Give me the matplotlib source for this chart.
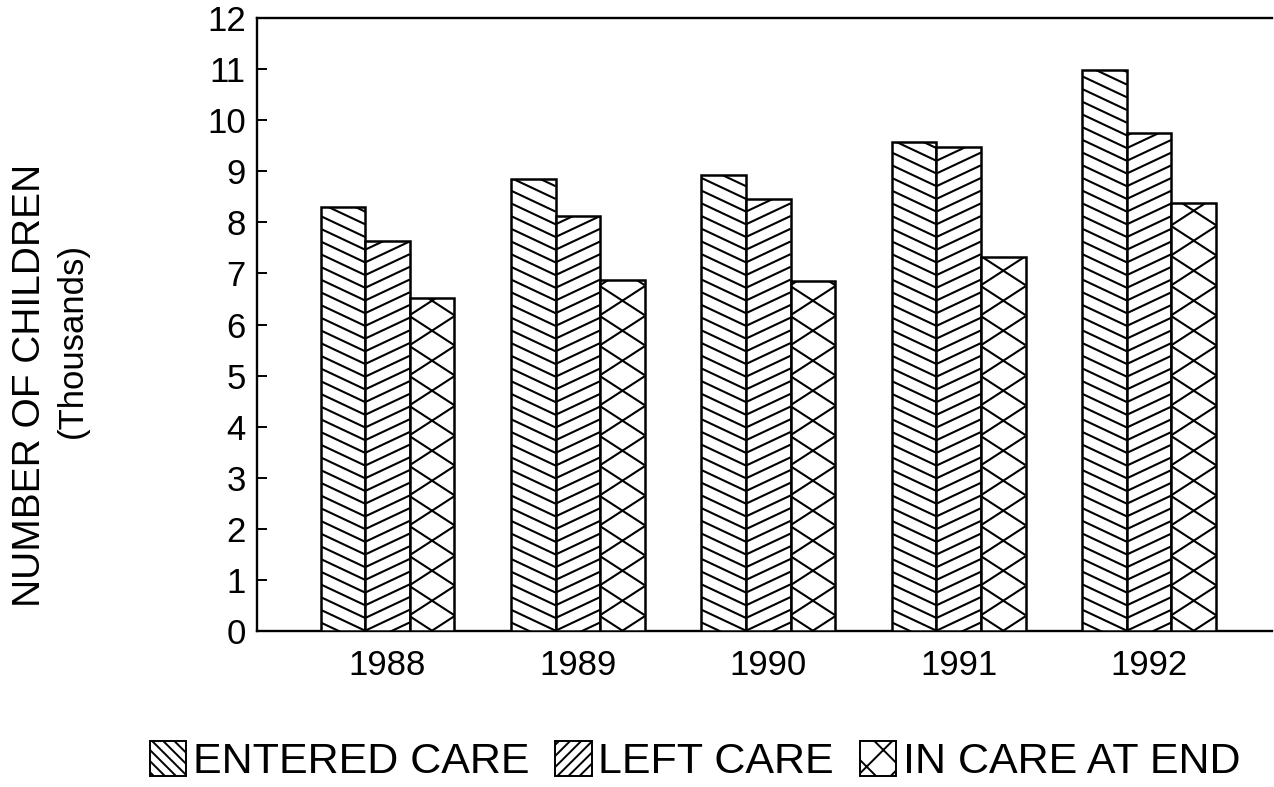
import numpy as np
import matplotlib
matplotlib.use("Agg")
import matplotlib.pyplot as plt
from matplotlib.collections import LineCollection
from matplotlib.patches import Rectangle

# data (thousands of children)
years = ["1988", "1989", "1990", "1991", "1992"]
entered = [8.30, 8.85, 8.93, 9.57, 10.99]
left_care = [7.64, 8.13, 8.45, 9.47, 9.75]
in_care = [6.51, 6.87, 6.86, 7.32, 8.38]
series_names = ["ENTERED CARE", "LEFT CARE", "IN CARE AT END"]

plt.rcParams['font.family'] = ['Liberation Sans', 'DejaVu Sans']
plt.rcParams['hatch.linewidth'] = 1.4
plt.rcParams['hatch.color'] = 'black'


def hatch_bar(ax, bar, slope_px, spacing_px, anchor_x):
    # draw diagonal lines (slope given in pixels) clipped to the bar
    t = ax.transData
    bx0 = bar.get_x()
    bx1 = bar.get_x() + bar.get_width()
    px0, py0 = t.transform((bx0, 0))
    px1, py1 = t.transform((bx1, bar.get_height()))
    ax_px = t.transform((anchor_x, 0))[0]
    # how far the lines move across the bar
    reach = abs(slope_px) * (px1 - px0) + spacing_px
    kmin = int(np.floor(-reach / spacing_px)) - 1
    kmax = int(np.ceil((py1 - py0 + reach) / spacing_px)) + 1
    segs = []
    inv = t.inverted()
    for k in range(kmin, kmax + 1):
        ya = py0 + k * spacing_px + slope_px * (px0 - ax_px)
        yb = py0 + k * spacing_px + slope_px * (px1 - ax_px)
        pts = inv.transform([(px0, ya), (px1, yb)])
        segs.append(pts)
    lc = LineCollection(segs, colors='black', linewidths=1.5, zorder=4)
    ax.add_collection(lc)
    lc.set_clip_path(bar)


fig = plt.figure(figsize=(12.74, 7.87), dpi=100)
ax = fig.add_axes([257 / 1274, 1 - 630.7 / 787, (1272 - 257) / 1274, (630.7 - 18.3) / 787])

x = np.arange(len(years))
w = 0.234

ax.set_xlim(-0.685, 4.645)
ax.set_ylim(0, 12)

bars_e = ax.bar(x - w, entered, w, color='white', edgecolor='black', linewidth=1.8, zorder=3)
bars_l = ax.bar(x, left_care, w, color='white', edgecolor='black', linewidth=1.8, zorder=3)
bars_c = ax.bar(x + w, in_care, w, color='white', edgecolor='black', linewidth=1.8, zorder=3)

# hatching, entered/left meet at the shared edge like chevrons
for b in bars_e:
    hatch_bar(ax, b, -0.47, 12.7, b.get_x() + b.get_width())
for b in bars_l:
    hatch_bar(ax, b, 0.47, 12.7, b.get_x())
for b in bars_c:
    mid = b.get_x() + b.get_width() / 2
    hatch_bar(ax, b, 0.65, 30, mid)
    hatch_bar(ax, b, -0.65, 30, mid)

# axes styling
ax.spines['right'].set_visible(False)
for s in ['left', 'top', 'bottom']:
    ax.spines[s].set_linewidth(1.7)
ax.set_yticks(range(0, 13))
ax.set_xticks(x)
ax.set_xticklabels(years)
ax.tick_params(axis='y', direction='in', length=7, width=1.4, labelsize=25, pad=8)
ax.tick_params(axis='x', length=0, labelsize=25, pad=13)

fig.text(30 / 1274, 1 - 385 / 787, "NUMBER OF CHILDREN", rotation=90,
         ha='center', va='center', fontsize=28)
fig.text(72 / 1274, 1 - 340 / 787, "(Thousands)", rotation=90,
         ha='center', va='center', fontsize=25)

# legend with plain 45 degree hatches like the original key
handles = [
    Rectangle((0, 0), 1, 1, facecolor='white', edgecolor='black', hatch='\\\\\\', linewidth=1.4),
    Rectangle((0, 0), 1, 1, facecolor='white', edgecolor='black', hatch='///', linewidth=1.4),
    Rectangle((0, 0), 1, 1, facecolor='white', edgecolor='black', hatch='x', linewidth=1.4),
]
fig.legend(handles, series_names, loc='center', bbox_to_anchor=(0.5455, 0.032),
           ncol=3, frameon=False, fontsize=31, handleheight=0.85, handlelength=0.85,
           handletextpad=0.15, columnspacing=0.6, borderpad=0)

fig.savefig("out.png", dpi=100)
